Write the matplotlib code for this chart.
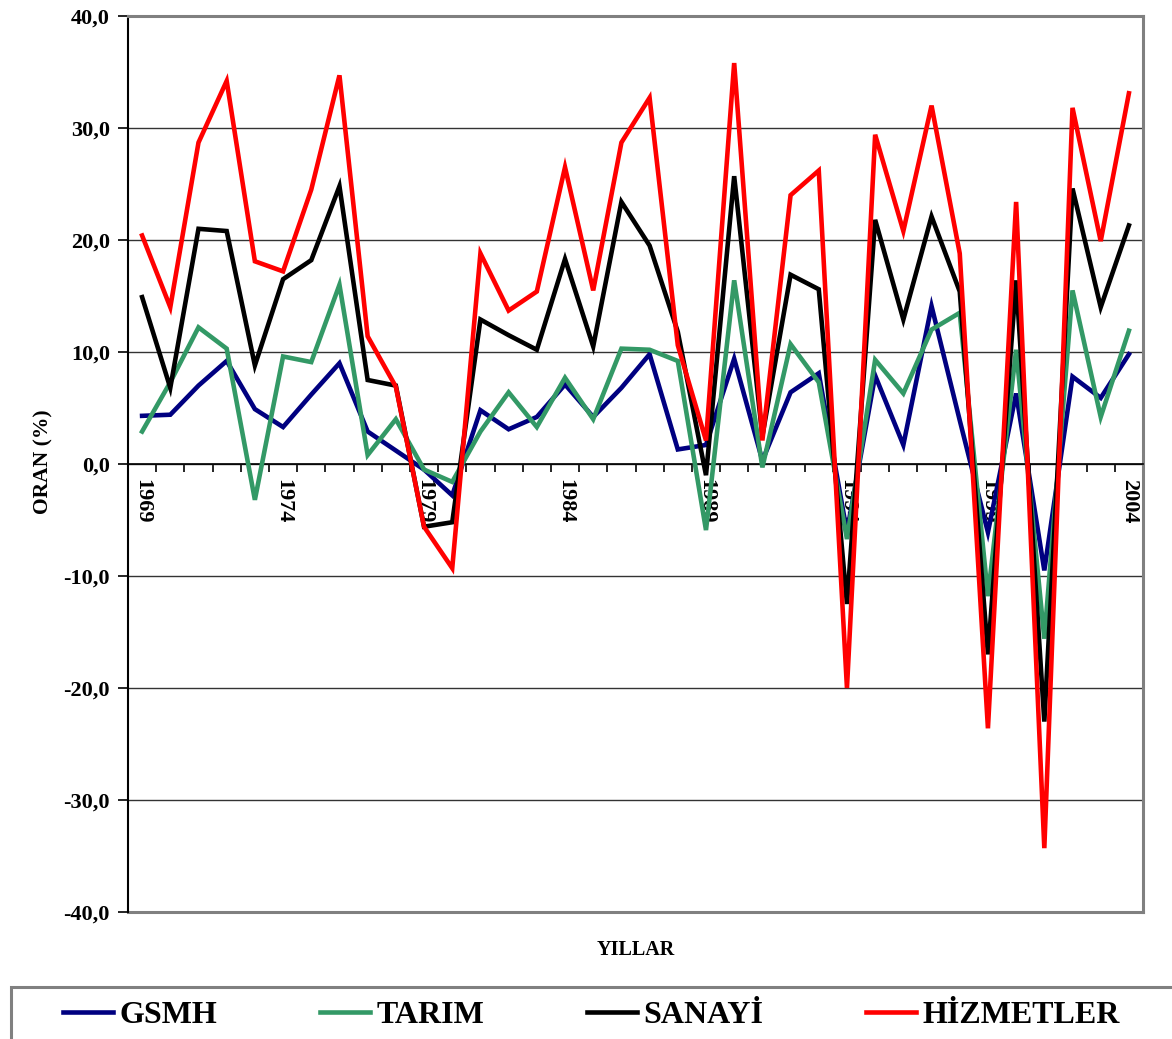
import numpy as np
import matplotlib
matplotlib.use("Agg")
import matplotlib.pyplot as plt
from matplotlib.patches import Rectangle

plt.rcParams['font.family'] = ['Liberation Serif', 'DejaVu Serif']
plt.rcParams['font.weight'] = 'bold'

# growth rates (%)
years = list(range(1969, 2005))
gsmh = [4.3, 4.4, 7.0, 9.2, 4.9, 3.3, 6.2, 9.0, 2.9, 1.2, -0.5, -2.8,
        4.8, 3.1, 4.2, 7.1, 4.2, 6.8, 9.8, 1.3, 1.7, 9.4, 0.3, 6.4,
        8.1, -6.1, 7.9, 1.7, 14.1, 3.9, -6.1, 6.3, -9.5, 7.8, 5.9, 9.8]
tarim = [2.9, 7.3, 12.2, 10.3, -3.2, 9.6, 9.1, 16.0, 0.8, 4.0, -0.5, -1.6,
         2.9, 6.4, 3.3, 7.7, 4.0, 10.3, 10.2, 9.2, -5.9, 16.4, -0.3, 10.7,
         7.3, -6.7, 9.3, 6.3, 12.0, 13.5, -11.8, 10.2, -15.6, 15.5, 4.2, 11.9]
sanayi = [14.9, 6.8, 21.0, 20.8, 8.8, 16.5, 18.2, 24.8, 7.5, 7.0, -5.6, -5.2,
          12.9, 11.5, 10.2, 18.3, 10.5, 23.4, 19.5, 11.8, -1.0, 25.7, 2.5, 16.9,
          15.6, -12.5, 21.8, 12.9, 22.1, 15.4, -17.0, 16.4, -23.0, 24.6, 14.0, 21.3]
hizmetler = [20.4, 14.0, 28.7, 34.2, 18.1, 17.2, 24.5, 34.7, 11.4, 6.9, -5.6, -9.3,
             18.8, 13.7, 15.4, 26.5, 15.5, 28.7, 32.7, 10.6, 2.1, 35.8, 2.1, 24.0,
             26.2, -20.0, 29.4, 20.8, 32.0, 18.8, -23.6, 23.4, -34.3, 31.8, 19.9, 33.1]

series = [('GSMH', gsmh, '#000080'),
          ('TARIM', tarim, '#339966'),
          ('SANAYİ', sanayi, '#000000'),
          ('HİZMETLER', hizmetler, '#FF0000')]

fig = plt.figure(figsize=(11.72, 10.39), dpi=100)
ax = fig.add_axes([128/1172, 1 - 912/1039, 1015/1172, 896/1039])

x = np.arange(len(years))
handles = []
for name, vals, col in series:
    h, = ax.plot(x, vals, color=col, lw=3.3, label=name,
                 solid_joinstyle='miter', zorder=3)
    handles.append(h)

ax.set_xlim(-0.5, len(years) - 0.5)
ax.set_ylim(-40, 40)

# y axis
yt = np.arange(-40, 41, 10)
ax.set_yticks(yt)
ax.set_yticklabels([f"{v:.1f}".replace('.', ',') for v in yt], fontsize=16)
ax.tick_params(axis='y', length=7, width=1.2, pad=6)
ax.yaxis.grid(True, color='#333333', lw=1.0)
ax.set_axisbelow(True)

# category axis crossing at zero
ax.spines['bottom'].set_position(('data', 0))
ax.spines['bottom'].set_linewidth(1.2)
ax.spines['left'].set_linewidth(1.5)
for s in ['top', 'right']:
    ax.spines[s].set_color('#808080')
    ax.spines[s].set_linewidth(2.2)
ax.axhline(-40, color='#808080', lw=2.2, clip_on=False, zorder=2.5)

ax.set_xticks(np.arange(-0.5, len(years), 1))
ax.set_xticklabels([])
ax.tick_params(axis='x', which='major', length=6, width=1.2)
lab_idx = x[::5]
ax.set_xticks(lab_idx, [str(years[i]) for i in lab_idx], minor=True)
ax.tick_params(axis='x', which='minor', length=0, pad=11, labelsize=16,
               labelrotation=270)

fig.text(43/1172, 1 - 462/1039, 'ORAN (%)', rotation=90, ha='center',
         va='center', fontsize=15.5, fontweight='bold')
fig.text(636/1172, 1 - 950/1039, 'YILLAR', ha='center', va='center',
         fontsize=14.5, fontweight='bold')

# legend box running off the page edge
fig.add_artist(Rectangle((11/1172, -0.05), 1.0, 0.05 + 1 - 987/1039,
                         transform=fig.transFigure, fill=False,
                         edgecolor='#808080', lw=2.2))
fig.legend(handles=handles, loc='center left',
           bbox_to_anchor=(63/1172, 1 - 1015/1039), ncol=4, frameon=False,
           fontsize=23, handlelength=1.56, handletextpad=0.22,
           columnspacing=3.2, borderpad=0, borderaxespad=0)

plt.savefig('out.png', dpi=100)
